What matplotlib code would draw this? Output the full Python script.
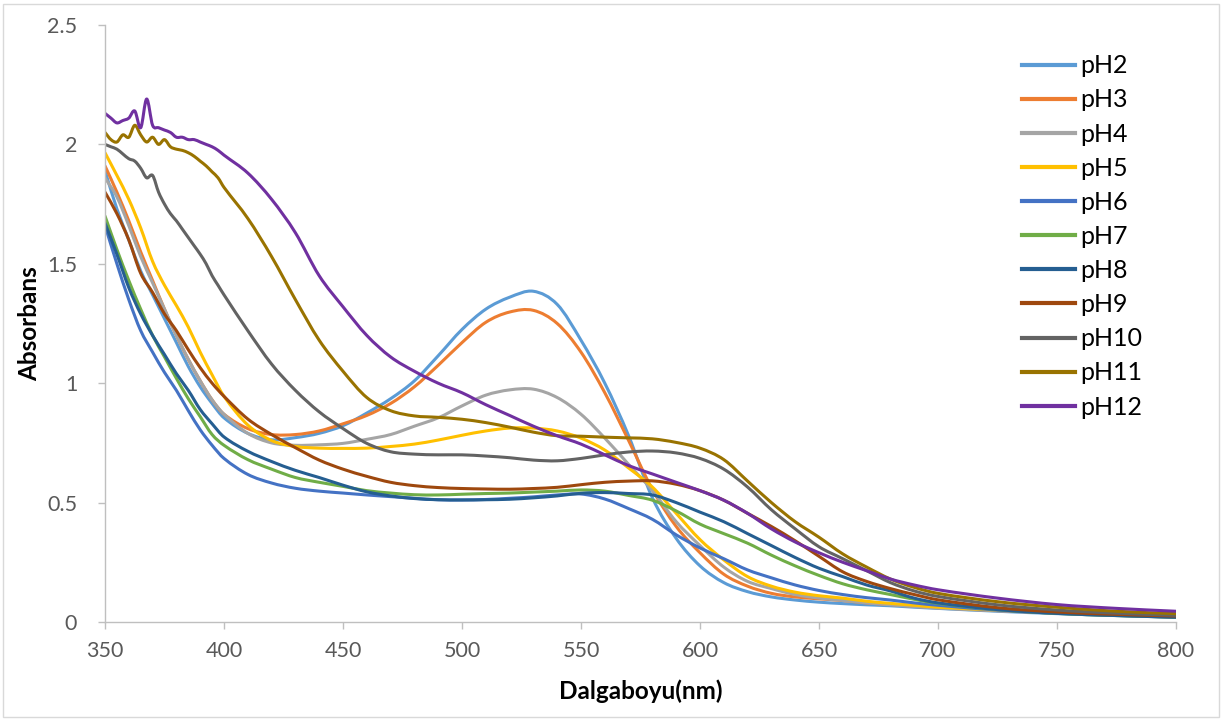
import matplotlib
matplotlib.use("Agg")
import matplotlib.pyplot as plt
from matplotlib.lines import Line2D
from matplotlib.patches import PathPatch, Rectangle
from matplotlib.path import Path
from matplotlib.ticker import FuncFormatter, MultipleLocator

plt.rcParams["font.family"] = ["Lato", "DejaVu Sans"]

# Wavelength grids (nm): a coarse grid for the smooth spectra and a finer
# head section (350-400 nm) for the noisy high-pH spectra.
wl_coarse = [350, 355, 360, 365, 370, 375, 380, 385, 390, 395, 400,
             410, 420, 430, 440, 450, 460, 470, 480, 490, 500,
             510, 520, 530, 540, 550, 560, 570, 580, 590, 600,
             610, 620, 630, 640, 650, 660, 670, 680, 690, 700,
             725, 750, 775, 800]
wl_fine = [350, 352.5, 355, 357.5, 360, 362.5, 365, 367.5, 370, 372.5,
           375, 377.5, 380, 382.5, 385, 387.5, 390, 392.5, 395, 397.5, 400,
           410, 420, 430, 440, 450, 460, 470, 480, 490, 500,
           510, 520, 530, 540, 550, 560, 570, 580, 590, 600,
           610, 620, 630, 640, 650, 660, 670, 680, 690, 700,
           725, 750, 775, 800]

ph2 = [1.89, 1.73, 1.60, 1.47, 1.37, 1.27, 1.17, 1.07, 0.985, 0.915, 0.855,
       0.79, 0.763, 0.772, 0.79, 0.822, 0.875, 0.935, 1.01, 1.115, 1.225,
       1.31, 1.36, 1.385, 1.33, 1.18, 1.0, 0.78, 0.52, 0.35, 0.235,
       0.165, 0.127, 0.105, 0.092, 0.083, 0.077, 0.072, 0.068, 0.062, 0.057,
       0.045, 0.035, 0.027, 0.02]
ph3 = [1.91, 1.80, 1.68, 1.55, 1.43, 1.31, 1.20, 1.10, 1.01, 0.93, 0.87,
       0.81, 0.785, 0.785, 0.80, 0.83, 0.865, 0.915, 0.985, 1.075, 1.17,
       1.255, 1.298, 1.305, 1.25, 1.13, 0.96, 0.76, 0.555, 0.40, 0.29,
       0.20, 0.15, 0.12, 0.105, 0.097, 0.09, 0.08, 0.073, 0.066, 0.06,
       0.048, 0.038, 0.03, 0.024]
ph4 = [1.86, 1.78, 1.66, 1.53, 1.42, 1.31, 1.20, 1.10, 1.01, 0.93, 0.87,
       0.79, 0.75, 0.74, 0.742, 0.748, 0.765, 0.785, 0.82, 0.855, 0.905,
       0.95, 0.972, 0.975, 0.94, 0.87, 0.77, 0.66, 0.55, 0.42, 0.32,
       0.23, 0.17, 0.14, 0.115, 0.10, 0.09, 0.08, 0.072, 0.065, 0.058,
       0.047, 0.037, 0.029, 0.023]
ph5 = [1.965, 1.87, 1.77, 1.65, 1.51, 1.41, 1.325, 1.235, 1.13, 1.035, 0.945,
       0.825, 0.76, 0.735, 0.728, 0.727, 0.728, 0.735, 0.745, 0.762, 0.782,
       0.80, 0.812, 0.812, 0.80, 0.77, 0.72, 0.645, 0.565, 0.455, 0.345,
       0.26, 0.19, 0.15, 0.125, 0.11, 0.10, 0.087, 0.078, 0.07, 0.062,
       0.05, 0.039, 0.031, 0.025]
ph6 = [1.66, 1.50, 1.35, 1.22, 1.13, 1.045, 0.97, 0.885, 0.805, 0.74, 0.685,
       0.618, 0.582, 0.56, 0.548, 0.54, 0.532, 0.525, 0.518, 0.512, 0.511,
       0.513, 0.518, 0.524, 0.532, 0.536, 0.515, 0.475, 0.43, 0.365, 0.31,
       0.265, 0.218, 0.185, 0.155, 0.132, 0.115, 0.102, 0.092, 0.08, 0.07,
       0.05, 0.037, 0.028, 0.02]
ph7 = [1.70, 1.56, 1.43, 1.31, 1.20, 1.11, 1.02, 0.935, 0.86, 0.785, 0.74,
       0.68, 0.64, 0.605, 0.585, 0.568, 0.55, 0.54, 0.533, 0.532, 0.535,
       0.538, 0.54, 0.544, 0.548, 0.553, 0.548, 0.53, 0.51, 0.465, 0.41,
       0.37, 0.33, 0.28, 0.235, 0.195, 0.16, 0.135, 0.115, 0.095, 0.078,
       0.052, 0.036, 0.027, 0.02]
ph8 = [1.67, 1.54, 1.40, 1.29, 1.20, 1.12, 1.04, 0.97, 0.89, 0.83, 0.775,
       0.715, 0.672, 0.635, 0.605, 0.573, 0.545, 0.528, 0.517, 0.512, 0.511,
       0.512, 0.514, 0.52, 0.528, 0.539, 0.542, 0.538, 0.532, 0.50, 0.46,
       0.42, 0.37, 0.32, 0.27, 0.225, 0.19, 0.155, 0.13, 0.10, 0.08,
       0.052, 0.036, 0.027, 0.02]
ph9 = [1.80, 1.71, 1.60, 1.46, 1.38, 1.29, 1.22, 1.14, 1.065, 1.0, 0.945,
       0.85, 0.785, 0.73, 0.678, 0.64, 0.61, 0.585, 0.571, 0.563, 0.559,
       0.557, 0.556, 0.559, 0.564, 0.575, 0.585, 0.59, 0.591, 0.577, 0.55,
       0.51, 0.455, 0.40, 0.34, 0.275, 0.21, 0.17, 0.14, 0.115, 0.093,
       0.06, 0.042, 0.032, 0.025]
ph10 = [2.00, 1.99, 1.98, 1.96, 1.94, 1.93, 1.90, 1.86, 1.87, 1.80,
        1.75, 1.71, 1.68, 1.645, 1.61, 1.575, 1.54, 1.50, 1.45, 1.41, 1.37,
        1.22, 1.08, 0.97, 0.88, 0.81, 0.748, 0.713, 0.703, 0.70, 0.70,
        0.695, 0.688, 0.678, 0.675, 0.685, 0.70, 0.712, 0.716, 0.708, 0.685,
        0.64, 0.565, 0.47, 0.39, 0.315, 0.265, 0.215, 0.165, 0.13, 0.107,
        0.072, 0.05, 0.037, 0.028]
ph11 = [2.05, 2.02, 2.01, 2.04, 2.03, 2.08, 2.04, 2.01, 2.03, 2.00,
        2.02, 1.99, 1.98, 1.975, 1.965, 1.95, 1.93, 1.91, 1.885, 1.86, 1.82,
        1.69, 1.53, 1.35, 1.18, 1.05, 0.94, 0.885, 0.863, 0.857, 0.849,
        0.835, 0.816, 0.795, 0.78, 0.778, 0.774, 0.771, 0.767, 0.752, 0.728,
        0.68, 0.59, 0.50, 0.42, 0.355, 0.285, 0.23, 0.18, 0.145, 0.12,
        0.085, 0.062, 0.045, 0.035]
ph12 = [2.13, 2.11, 2.09, 2.10, 2.11, 2.14, 2.07, 2.19, 2.08, 2.07,
        2.06, 2.05, 2.03, 2.03, 2.02, 2.02, 2.01, 2.00, 1.99, 1.975, 1.955,
        1.88, 1.77, 1.63, 1.45, 1.32, 1.20, 1.11, 1.05, 1.0, 0.96,
        0.91, 0.865, 0.82, 0.78, 0.745, 0.70, 0.655, 0.62, 0.585, 0.55,
        0.51, 0.455, 0.39, 0.335, 0.29, 0.25, 0.215, 0.18, 0.155, 0.135,
        0.10, 0.073, 0.057, 0.045]

labels = ["pH2", "pH3", "pH4", "pH5", "pH6", "pH7", "pH8", "pH9",
          "pH10", "pH11", "pH12"]
colors = ["#5B9BD5", "#ED7D31", "#A5A5A5", "#FFC000", "#4472C4", "#70AD47",
          "#255E91", "#9E480E", "#636363", "#997300", "#7030A0"]
series = [(wl_coarse, ph2), (wl_coarse, ph3), (wl_coarse, ph4),
          (wl_coarse, ph5), (wl_coarse, ph6), (wl_coarse, ph7),
          (wl_coarse, ph8), (wl_coarse, ph9), (wl_fine, ph10),
          (wl_fine, ph11), (wl_fine, ph12)]


def smoothed_path(x, y):
    """Smoothed line through the data points, built from cubic Bezier
    segments (Hermite tangents from neighbouring points)."""
    n = len(x)
    slopes = []
    for i in range(n):
        a = max(i - 1, 0)
        b = min(i + 1, n - 1)
        slopes.append((y[b] - y[a]) / (x[b] - x[a]))
    verts = [(x[0], y[0])]
    codes = [Path.MOVETO]
    for i in range(n - 1):
        h = x[i + 1] - x[i]
        verts += [(x[i] + h / 3, y[i] + slopes[i] * h / 3),
                  (x[i + 1] - h / 3, y[i + 1] - slopes[i + 1] * h / 3),
                  (x[i + 1], y[i + 1])]
        codes += [Path.CURVE4] * 3
    return Path(verts, codes)


W, H = 1223, 720
fig = plt.figure(figsize=(W / 100, H / 100), dpi=100)
fig.patch.set_facecolor("white")
fig.add_artist(Rectangle((3 / W, 3 / H), (W - 7) / W, (H - 7) / H,
                         transform=fig.transFigure, fill=False,
                         edgecolor="#D9D9D9", linewidth=1.0))

ax = fig.add_axes([105 / W, (H - 622) / H, 1071 / W, 597 / H])
handles = []
for (x, y), lab, c in zip(series, labels, colors):
    ax.add_patch(PathPatch(smoothed_path(x, y), facecolor="none",
                           edgecolor=c, lw=2.2, capstyle="round",
                           joinstyle="round"))
    handles.append(Line2D([], [], color=c, lw=3, label=lab))

ax.set_xlim(350, 800)
ax.set_ylim(0, 2.5)
ax.xaxis.set_major_locator(MultipleLocator(50))
ax.yaxis.set_major_locator(MultipleLocator(0.5))
ax.yaxis.set_major_formatter(FuncFormatter(lambda v, p: f"{v:g}"))

for side in ("top", "right"):
    ax.spines[side].set_visible(False)
for side in ("left", "bottom"):
    ax.spines[side].set_color("#BFBFBF")
    ax.spines[side].set_linewidth(1.0)
ax.tick_params(axis="both", direction="out", length=5, width=1,
               color="#BFBFBF", labelcolor="#595959", labelsize=15.5)
ax.tick_params(axis="x", pad=9)
ax.tick_params(axis="y", pad=15)

ax.set_xlabel("Dalgaboyu(nm)", fontsize=17.5, fontweight="bold",
              color="black")
ax.set_ylabel("Absorbans", fontsize=17.5, fontweight="bold", color="black")
ax.xaxis.set_label_coords(0.5, -0.1156)
ax.xaxis.label.set_va("center")
ax.yaxis.set_label_coords(-0.070, 0.5)
ax.yaxis.label.set_va("center")

ax.legend(handles=handles, loc="upper left", bbox_to_anchor=(0.856, 0.951),
          frameon=False, fontsize=18, handlelength=2.12,
          handletextpad=0.2, labelspacing=0.445, borderpad=0,
          borderaxespad=0)

fig.savefig("out.png", dpi=100, facecolor="white")
